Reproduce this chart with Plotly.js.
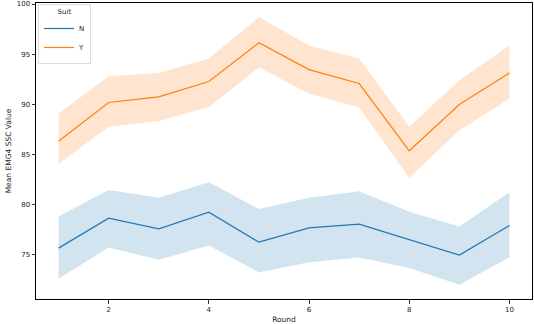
<!DOCTYPE html>
<html><head><meta charset="utf-8">
<script src="https://cdn.plot.ly/plotly-3.0.1.min.js"></script>
<style>html,body{margin:0;padding:0;background:#fff}#chart{width:534px;height:324px}</style>
</head><body><div id="chart"></div>
<script>
const rounds = [1,2,3,4,5,6,7,8,9,10];
const nMean  = [75.63,78.62,77.55,79.21,76.22,77.65,78.02,76.45,74.93,77.88];
const nUpper = [78.78,81.43,80.67,82.20,79.54,80.67,81.30,79.27,77.78,81.20];
const nLower = [72.58,75.69,74.46,75.89,73.20,74.23,74.69,73.64,71.97,74.73];
const yMean  = [86.30,90.17,90.73,92.26,96.14,93.45,92.06,85.35,89.97,93.12];
const yUpper = [89.07,92.79,93.12,94.55,98.70,95.85,94.55,87.74,92.39,95.85];
const yLower = [84.03,87.74,88.31,89.73,93.66,91.07,89.67,82.66,87.40,90.53];
const yTicks = [75,80,85,90,95,100];
const xTicks = [2,4,6,8,10];
const blue = '#1f77b4', orange = '#ff7f0e';

function band(up, lo, fillc){
  return [
    {x: rounds, y: up, mode:'lines', line:{width:0, color:fillc}, showlegend:false, hoverinfo:'skip'},
    {x: rounds, y: lo, mode:'lines', line:{width:0, color:fillc}, fill:'tonexty', fillcolor:fillc, showlegend:false, hoverinfo:'skip'}
  ];
}
const data = [
  ...band(nUpper, nLower, 'rgba(31,119,180,0.2)'),
  ...band(yUpper, yLower, 'rgba(255,127,14,0.2)'),
  {x: rounds, y: nMean, mode:'lines', name:'N', line:{color:blue, width:1.2}},
  {x: rounds, y: yMean, mode:'lines', name:'Y', line:{color:orange, width:1.2}}
];
const axisCommon = {showgrid:false, zeroline:false, showline:true, mirror:true, linecolor:'#000', linewidth:1,
  ticks:'outside', ticklen:3.5, tickwidth:0.8, tickcolor:'#000', tickfont:{size:7, color:'#222'}, automargin:false};
const layout = {
  width:534, height:324,
  margin:{l:36, r:2, t:3, b:25},
  paper_bgcolor:'#fff', plot_bgcolor:'#fff',
  font:{family:'DejaVu Sans', color:'#222'},
  xaxis:Object.assign({}, axisCommon, {range:[0.55,10.45], tickvals:xTicks,
    title:{text:'Round', font:{size:7.5}, standoff:4}}),
  yaxis:Object.assign({}, axisCommon, {range:[70.55,100.1], tickvals:yTicks,
    title:{text:'Mean EMG4 SSC Value', font:{size:7.5}, standoff:4}}),
  showlegend:true,
  legend:{x:0.004, y:0.997, xanchor:'left', yanchor:'top', bgcolor:'rgba(255,255,255,0.8)',
    bordercolor:'#ddd', borderwidth:1, font:{size:7}, tracegroupgap:0, itemwidth:30, traceorder:'normal',
    title:{text:'Suit', side:'top center', font:{size:7}}}
};
Plotly.newPlot('chart', data, layout, {displayModeBar:false, staticPlot:true});
</script></body></html>
